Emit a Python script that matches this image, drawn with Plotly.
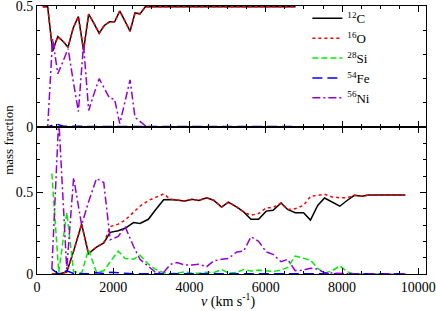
import plotly.graph_objects as go
from plotly.subplots import make_subplots

# ---------------- data ----------------
species = ["<sup>12</sup>C", "<sup>16</sup>O", "<sup>28</sup>Si", "<sup>54</sup>Fe", "<sup>56</sup>Ni"]

# upper panel
v_top = [150, 280, 410, 545, 680, 815, 950, 1085, 1220, 1355, 1490, 1630, 1765, 1900,
         2035, 2170, 2300, 2440, 2570, 2700, 2840, 3000, 6780]
c_top = [0.497, 0.497, 0.314, 0.374, 0.355, 0.33, 0.41, 0.457, 0.318, 0.467, 0.43, 0.388,
         0.42, 0.435, 0.435, 0.48, 0.44, 0.396, 0.472, 0.468, 0.497, 0.497, 0.497]
o_top = [0.497, 0.497, 0.314, 0.374, 0.355, 0.33, 0.41, 0.457, 0.318, 0.467, 0.43, 0.388,
         0.42, 0.435, 0.435, 0.48, 0.44, 0.396, 0.472, 0.468, 0.497, 0.497, 0.497]
si_top = [0.0, 0.0, 0.002, 0.002, 0.001, 0.001, 0.001, 0.001, 0.001, 0.001, 0.001, 0.001,
          0.001, 0.001, 0.001, 0.001, 0.001, 0.001, 0.001, 0.001, 0.0, 0.0, 0.0]
fe_top = [0.0, 0.0, 0.008, 0.01, 0.004, 0.005, 0.003, 0.003, 0.002, 0.003, 0.002, 0.002,
          0.002, 0.002, 0.002, 0.002, 0.002, 0.002, 0.002, 0.002, 0.002, 0.002, 0.002]
ni_top = [0.0, 0.0, 0.365, 0.22, 0.27, 0.324, 0.19, 0.064, 0.342, 0.068, 0.135, 0.2,
          0.16, 0.12, 0.115, 0.014, 0.1, 0.195, 0.04, 0.025, 0.005, 0.0, 0.0]

# lower panel
v_bot = [390, 570, 780, 960, 1170, 1350, 1560, 1750, 1920, 2130, 2310, 2530, 2700, 2920,
         3100, 3320, 3500, 3670, 3880, 4060, 4240, 4450, 4630, 4840, 5020, 5240, 5420,
         5610, 5810, 6010, 6190, 6400, 6570, 6770, 6990, 7170, 7360, 7540, 7740, 7940,
         8130, 8320, 8520, 8700, 8900, 9100, 9300, 9500, 9660]
c_bot = [0.0, 0.0, 0.012, 0.14, 0.305, 0.125, 0.165, 0.19, 0.255, 0.265, 0.28, 0.315,
         0.31, 0.335, 0.39, 0.455, 0.456, 0.452, 0.447, 0.457, 0.45, 0.466, 0.452, 0.41,
         0.44, 0.41, 0.38, 0.335, 0.335, 0.385, 0.39, 0.435, 0.395, 0.375, 0.375, 0.33,
         0.42, 0.465, 0.44, 0.415, 0.45, 0.482, 0.476, 0.484, 0.484, 0.484, 0.484, 0.484, 0.484]
o_bot = [0.0, 0.0, 0.012, 0.14, 0.305, 0.125, 0.165, 0.19, 0.29, 0.305, 0.33, 0.38,
         0.415, 0.45, 0.47, 0.49, 0.458, 0.452, 0.447, 0.457, 0.45, 0.466, 0.452, 0.41,
         0.44, 0.41, 0.38, 0.36, 0.37, 0.405, 0.407, 0.435, 0.395, 0.40, 0.42, 0.475,
         0.482, 0.488, 0.472, 0.467, 0.467, 0.482, 0.476, 0.484, 0.484, 0.484, 0.484, 0.484, 0.484]
si_bot = [0.615, 0.01, 0.376, 0.015, 0.005, 0.15, 0.01, 0.02, 0.075, 0.14, 0.095, 0.09,
          0.115, 0.06, 0.03, 0.008, 0.002, 0.005, 0.014, 0.004, 0.005, 0.01, 0.008, 0.028,
          0.005, 0.01, 0.028, 0.018, 0.024, 0.02, 0.015, 0.024, 0.04, 0.11, 0.095, 0.085,
          0.035, 0.005, 0.02, 0.05, 0.014, 0.0, 0.0, 0.0, 0.0, 0.0, 0.0, 0.0, 0.0]
fe_bot = [0.03, 0.0, 0.02, 0.003, 0.002, 0.002, 0.008, 0.003, 0.01, 0.006, 0.003, 0.002,
          0.002, 0.002, 0.002, 0.002, 0.002, 0.002, 0.002, 0.002, 0.002, 0.002, 0.002, 0.002,
          0.002, 0.002, 0.002, 0.002, 0.002, 0.002, 0.002, 0.002, 0.002, 0.002, 0.002, 0.002,
          0.001, 0.001, 0.001, 0.001, 0.001, 0.001, 0.001, 0.001, 0.001, 0.001, 0.001, 0.001, 0.001]
ni_bot = [0.03, 0.95, 0.03, 0.59, 0.30, 0.44, 0.585, 0.56, 0.21, 0.23, 0.29, 0.17,
          0.09, 0.045, 0.012, 0.01, 0.06, 0.07, 0.055, 0.055, 0.06, 0.045, 0.08, 0.09,
          0.095, 0.135, 0.14, 0.228, 0.2, 0.135, 0.12, 0.075, 0.09, 0.02, 0.024, 0.035,
          0.03, 0.008, 0.005, 0.002, 0.0, 0.0, 0.0, 0.0, 0.0, 0.0, 0.0, 0.0, 0.0]

x_ticks = [0, 2000, 4000, 6000, 8000, 10000]
x_ticktext = ["0", "2000", "4000", "6000", "8000", "10000"]

# ---------------- styles ----------------
colors = ["#000000", "#ff0000", "#00ee00", "#0000ff", "#9400d3"]
dashes = ["solid", "dot", "6px,3px", "10px,5px", "8px,3px,2px,3px"]
FONT = "Liberation Serif"

fig = make_subplots(rows=2, cols=1, shared_xaxes=True, vertical_spacing=0,
                    row_heights=[121, 147])

top_series = [c_top, o_top, si_top, fe_top, ni_top]
bot_series = [c_bot, o_bot, si_bot, fe_bot, ni_bot]

for i, name in enumerate(species):
    fig.add_trace(go.Scatter(x=v_top, y=top_series[i], mode="lines", name=name,
                             showlegend=True, legendgroup=name,
                             line=dict(color=colors[i], dash=dashes[i], width=1.5)),
                  row=1, col=1)
for i, name in enumerate(species):
    fig.add_trace(go.Scatter(x=v_bot, y=bot_series[i], mode="lines", name=name,
                             showlegend=False, legendgroup=name,
                             line=dict(color=colors[i], dash=dashes[i], width=1.5)),
                  row=2, col=1)

axis_common = dict(showline=True, linecolor="black", linewidth=1, mirror="ticks",
                   ticks="inside", ticklen=6, tickcolor="black", showgrid=False,
                   zeroline=False, automargin=False, ticklabeloverflow="allow",
                   tickfont=dict(family=FONT, size=14, color="black"))

fig.update_xaxes(range=[0, 10200], tickvals=x_ticks, ticktext=x_ticktext,
                 minor=dict(dtick=500, ticklen=3, ticks="inside", tickcolor="black"),
                 **axis_common)
fig.update_xaxes(showticklabels=False, row=1, col=1)
fig.update_yaxes(range=[0, 0.5005], tickvals=[0, 0.5], ticktext=["0", "0.5"],
                 minor=dict(dtick=0.1, ticklen=3, ticks="inside", tickcolor="black"),
                 row=1, col=1, **axis_common)
fig.update_yaxes(range=[0, 0.9], tickvals=[0, 0.5], ticktext=["0", "0.5"],
                 minor=dict(dtick=0.1, ticklen=3, ticks="inside", tickcolor="black"),
                 row=2, col=1, **axis_common)

fig.add_annotation(text="mass fraction", xref="paper", yref="paper", x=-0.075, y=0.5,
                   textangle=-90, showarrow=False, xanchor="center", yanchor="middle",
                   font=dict(family=FONT, size=13, color="black"))
fig.add_annotation(text="<i>v</i> (km s<sup>-1</sup>)", xref="paper", yref="paper",
                   x=0.49, y=-0.1, showarrow=False, xanchor="center", yanchor="middle",
                   font=dict(family=FONT, size=14, color="black"))

fig.update_layout(
    width=436, height=311,
    margin=dict(l=37, r=10, t=6, b=37, autoexpand=False),
    paper_bgcolor="white", plot_bgcolor="white",
    legend=dict(x=0.695, y=1.01, xanchor="left", yanchor="top",
                bgcolor="rgba(0,0,0,0)", borderwidth=0, tracegroupgap=0,
                font=dict(family=FONT, size=13, color="black")),
)

fig.write_html("out.html", config={"displayModeBar": False},
               post_script="document.body.style.margin='0';document.body.style.padding='0';")
